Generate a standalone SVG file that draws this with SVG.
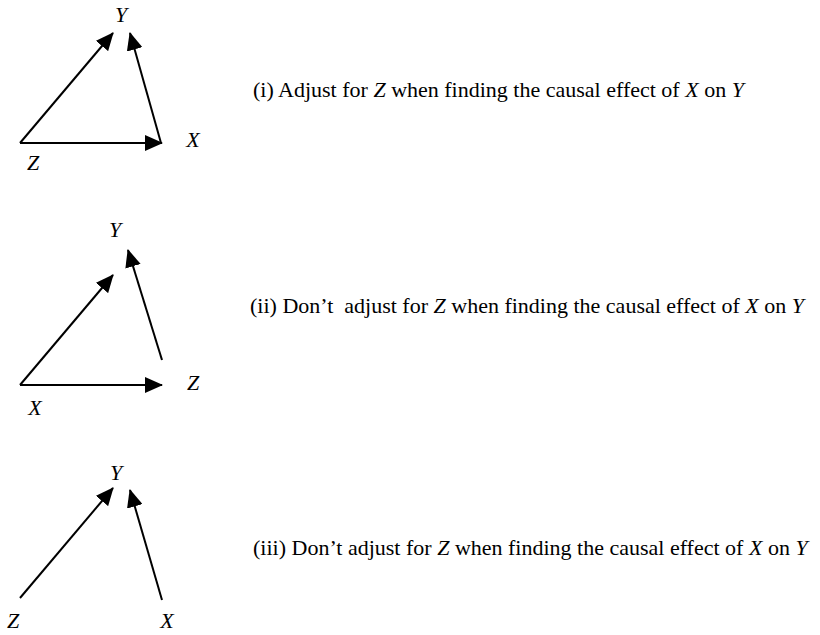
<svg xmlns="http://www.w3.org/2000/svg" width="820" height="635" viewBox="0 0 820 635">
<style>
.lbl{font-family:"Liberation Serif","Times New Roman",serif;font-size:22px;font-style:italic;fill:#000;text-anchor:middle}
.cap{font-family:"Liberation Serif","Times New Roman",serif;font-size:22px;fill:#000}
.cap tspan.v{font-style:italic}
.edge{stroke:#000;stroke-width:2;fill:none;marker-end:url(#ah)}
</style>
<defs>
<marker id="ah" markerUnits="userSpaceOnUse" markerWidth="18" markerHeight="16" refX="17" refY="8" orient="auto" viewBox="0 0 18 16">
<path d="M0,0 L18,8 L0,16 z" fill="#000"/>
</marker>
</defs>
<rect width="820" height="635" fill="#fff"/>
<g id="connectors">
<line class="edge" x1="20" y1="143" x2="113" y2="33"/>
<line class="edge" x1="161" y1="143" x2="130" y2="33"/>
<line class="edge" x1="20" y1="143" x2="162" y2="143"/>
<line class="edge" x1="20" y1="385" x2="113" y2="275"/>
<line class="edge" x1="162" y1="360" x2="128" y2="250"/>
<line class="edge" x1="20" y1="385" x2="162" y2="385"/>
<line class="edge" x1="20" y1="598" x2="113" y2="488"/>
<line class="edge" x1="162" y1="600" x2="130" y2="490"/>
</g>
<g id="d1-Y"><text class="lbl" x="121" y="22">Y</text></g>
<g id="d1-X"><text class="lbl" x="193" y="147">X</text></g>
<g id="d1-Z"><text class="lbl" x="33" y="170">Z</text></g>
<g id="d2-Y"><text class="lbl" x="115" y="237">Y</text></g>
<g id="d2-Z"><text class="lbl" x="193" y="390">Z</text></g>
<g id="d2-X"><text class="lbl" x="35" y="415">X</text></g>
<g id="d3-Y"><text class="lbl" x="116" y="480">Y</text></g>
<g id="d3-Z"><text class="lbl" x="13" y="628">Z</text></g>
<g id="d3-X"><text class="lbl" x="167" y="628">X</text></g>
<g id="cap1"><text class="cap" x="253" y="97">(i) Adjust for <tspan class="v">Z</tspan> when finding the causal effect of <tspan class="v">X</tspan> on <tspan class="v">Y</tspan></text></g>
<g id="cap2"><text class="cap" x="250" y="313">(ii) Don’t&#160; adjust for <tspan class="v">Z</tspan> when finding the causal effect of <tspan class="v">X</tspan> on <tspan class="v">Y</tspan></text></g>
<g id="cap3"><text class="cap" x="253" y="555">(iii) Don’t adjust for <tspan class="v">Z</tspan> when finding the causal effect of <tspan class="v">X</tspan> on <tspan class="v">Y</tspan></text></g>
</svg>
